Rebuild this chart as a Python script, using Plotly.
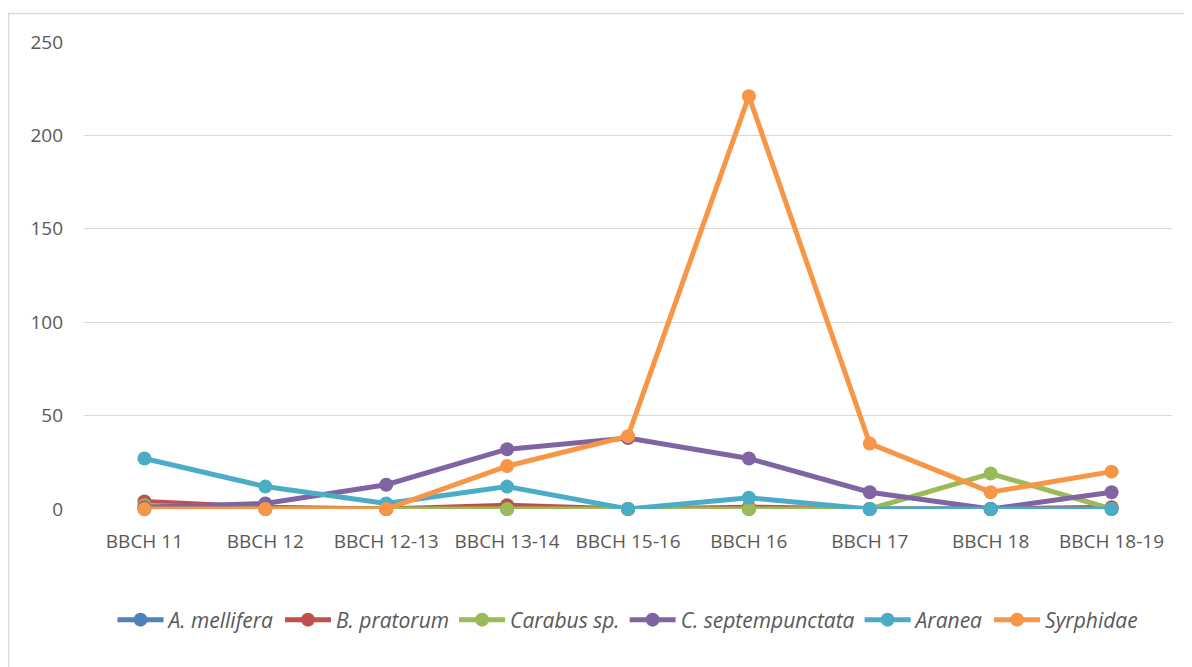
import plotly.graph_objects as go

categories = ["BBCH 11", "BBCH 12", "BBCH 12-13", "BBCH 13-14", "BBCH 15-16",
              "BBCH 16", "BBCH 17", "BBCH 18", "BBCH 18-19"]
a_mellifera = [0, 0, 0, 0, 0, 0, 0, 0, 0]
b_pratorum = [4, 1, 0, 2, 0, 1, 0, 0, 1]
carabus = [2, 0, 0, 0, 0, 0, 0, 19, 0]
c_septempunctata = [1, 3, 13, 32, 38, 27, 9, 0, 9]
aranea = [27, 12, 3, 12, 0, 6, 0, 0, 0]
syrphidae = [0, 0, 0, 23, 39, 221, 35, 9, 20]
y_ticks = [0, 50, 100, 150, 200, 250]

series = [
    ("A. mellifera", a_mellifera, "#4F81BD"),
    ("B. pratorum", b_pratorum, "#C0504D"),
    ("Carabus sp.", carabus, "#9BBB59"),
    ("C. septempunctata", c_septempunctata, "#8064A2"),
    ("Aranea", aranea, "#4BACC6"),
    ("Syrphidae", syrphidae, "#F79646"),
]

fig = go.Figure()
for name, vals, col in series:
    fig.add_trace(go.Scatter(
        x=categories, y=vals, name=name, mode="lines+markers",
        line=dict(color=col, width=5),
        marker=dict(color=col, size=14),
        cliponaxis=False,
    ))

# page body has an 8px margin; target plot area is x 84..1172, y 42..509 on screen
OFF = 8
W, H = 1192, 667
l, t = 84 - OFF, 42 - OFF
pw, ph = 1088, 467
r = W - l - pw
b = H - t - ph

def px2x(p):
    return (p - OFF - l) / pw

def px2y(p):
    return (t + ph - (p - OFF)) / ph

fig.add_shape(type="rect", xref="paper", yref="paper",
              x0=px2x(8.5), x1=px2x(1220), y0=px2y(13.5), y1=px2y(700),
              line=dict(color="#D9D9D9", width=1.5), fillcolor="rgba(0,0,0,0)",
              layer="below")

fig.update_layout(
    width=W, height=H,
    margin=dict(l=l, r=r, t=t, b=b),
    paper_bgcolor="white", plot_bgcolor="white",
    font=dict(family="Open Sans, Liberation Sans, sans-serif", color="#595959", size=19),
    showlegend=True,
    legend=dict(orientation="h", x=0.5, xanchor="center", y=px2y(620), yanchor="middle",
                font=dict(size=21, style="italic", color="#595959"),
                itemwidth=46, tracegroupgap=0),
    xaxis=dict(type="category", range=[-0.5, 8.5], showgrid=False, zeroline=False,
               showline=False, ticks="", ticklabelstandoff=19,
               tickfont=dict(size=19, color="#595959")),
    yaxis=dict(range=[0, 250], tickvals=y_ticks, showgrid=True, gridcolor="#D9D9D9",
               gridwidth=1.3, zeroline=False, showline=False, ticks="",
               ticklabelstandoff=20, tickfont=dict(size=19, color="#595959")),
)

fig.write_html("out.html")
